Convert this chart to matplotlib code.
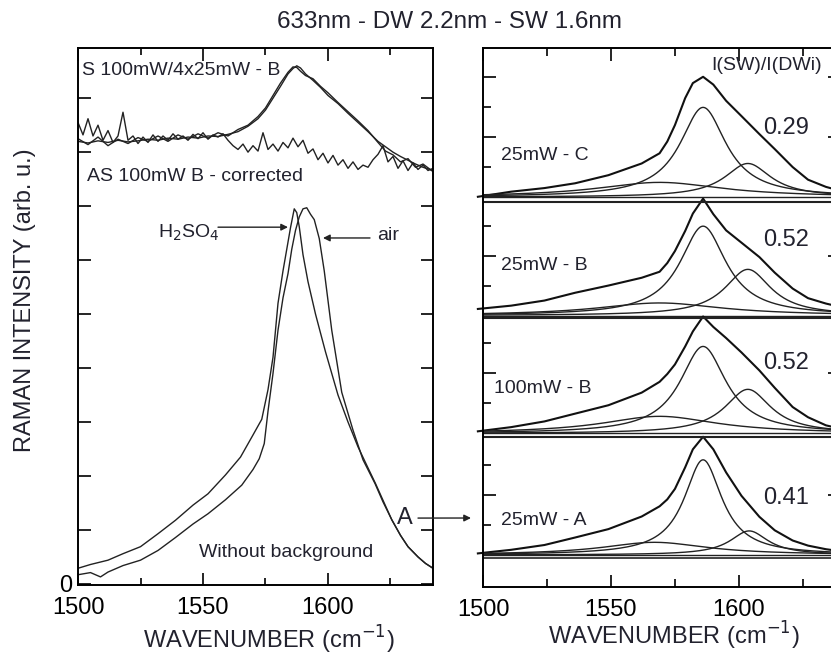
import numpy as np
import matplotlib
matplotlib.use('Agg')
import matplotlib.pyplot as plt

plt.rcParams['font.family'] = ['Liberation Sans', 'DejaVu Sans']

# ---- left panel: G band, with / without background ----
wn_h2so4 = [1500, 1505, 1512, 1518, 1525, 1532, 1539, 1546, 1552, 1559, 1565, 1570, 1573.5,
            1576, 1578, 1580, 1582, 1583.5, 1585, 1586.5, 1587.5, 1588.5, 1590, 1592, 1595,
            1599, 1604, 1608, 1612, 1616, 1619, 1622, 1625.5, 1629, 1632, 1636, 1639, 1642]
int_h2so4 = [0.29, 0.36, 0.44, 0.56, 0.69, 0.93, 1.18, 1.46, 1.67, 2.02, 2.35, 2.76, 3.05,
             3.6, 4.2, 5.2, 5.8, 6.2, 6.6, 6.95, 6.88, 6.62, 6.1, 5.6, 5.0,
             4.3, 3.5, 3.0, 2.54, 2.15, 1.86, 1.55, 1.19, 0.9, 0.69, 0.5, 0.38, 0.29]

wn_air = [1500, 1505, 1509, 1512, 1518, 1525, 1532, 1539, 1546, 1552, 1559, 1565.5, 1570,
          1572.5, 1574.5, 1576, 1578, 1580, 1582, 1584, 1585.5, 1587, 1588.5, 1590, 1591.5,
          1593, 1594.5, 1596.5, 1598.5, 1601.5, 1605.5, 1610, 1614, 1618.8, 1622, 1625.5,
          1629, 1632, 1636, 1639, 1642]
int_air = [0.17, 0.21, 0.13, 0.22, 0.34, 0.44, 0.62, 0.86, 1.11, 1.30, 1.56, 1.83, 2.12,
           2.32, 2.6, 3.2, 3.9, 4.7, 5.3, 5.75, 6.2, 6.55, 6.8, 6.95, 6.97,
           6.85, 6.75, 6.4, 5.8, 4.7, 3.55, 2.85, 2.3, 1.86, 1.52, 1.19,
           0.9, 0.69, 0.5, 0.38, 0.29]

wn_s = [1500, 1504, 1508, 1512, 1516, 1520, 1524, 1528, 1532, 1536, 1540, 1544, 1548, 1552,
        1556, 1560, 1564, 1568, 1572, 1575, 1578, 1581, 1584, 1586, 1587.5, 1589, 1591, 1594,
        1597, 1600, 1604, 1608, 1612, 1616, 1620, 1623, 1626, 1629, 1632, 1635, 1638, 1642]
s_100mw = [8.20, 8.17, 8.21, 8.18, 8.22, 8.19, 8.21, 8.24, 8.22, 8.26, 8.24, 8.28, 8.26, 8.30,
           8.29, 8.33, 8.38, 8.48, 8.62, 8.78, 9.0, 9.22, 9.45, 9.55, 9.60, 9.56, 9.45, 9.33,
           9.2, 9.05, 8.9, 8.72, 8.55, 8.38, 8.2, 8.1, 8.0, 7.92, 7.85, 7.78, 7.72, 7.66]
s_4x25mw = [8.25, 8.14, 8.28, 8.12, 8.24, 8.16, 8.27, 8.2, 8.3, 8.2, 8.32, 8.24, 8.34, 8.26,
            8.36, 8.3, 8.42, 8.5, 8.66, 8.82, 9.05, 9.28, 9.48, 9.58, 9.57, 9.5, 9.42, 9.36,
            9.22, 9.1, 8.92, 8.75, 8.58, 8.4, 8.18, 8.02, 7.95, 7.82, 7.88, 7.72, 7.78, 7.64]

wn_as = list(range(1500, 1643, 2))
as_100mw = [8.55, 8.32, 8.62, 8.30, 8.50, 8.22, 8.40, 8.18, 8.30, 8.74, 8.22, 8.30, 8.16, 8.28,
            8.18, 8.32, 8.20, 8.30, 8.22, 8.34, 8.24, 8.30, 8.22, 8.33, 8.25, 8.36, 8.24, 8.32,
            8.28, 8.34, 8.22, 8.12, 8.05, 8.15, 8.00, 8.12, 8.02, 8.36, 8.05, 8.15, 8.02, 8.18,
            8.08, 8.26, 8.10, 8.22, 7.98, 8.06, 7.86, 7.98, 7.80, 7.94, 7.76, 7.86, 7.70, 7.82,
            7.68, 7.76, 7.72, 7.86, 7.96, 8.12, 7.82, 7.92, 7.70, 7.84, 7.66, 7.80, 7.68, 7.76,
            7.66, 7.70]

# ---- right panel: four spectra with Lorentzian fits ----
panel_labels = ['25mW - C', '25mW - B', '100mW - B', '25mW - A']
ratio_labels = ['0.29', '0.52', '0.52', '0.41']
wn_r = [1498, 1511, 1524, 1536, 1549, 1562, 1569, 1572, 1575, 1579, 1582, 1586, 1590, 1595,
        1601, 1608, 1614, 1621, 1627, 1634, 1640]
meas_c = [0.01, 0.18, 0.30, 0.46, 0.73, 1.12, 1.46, 1.85, 2.40, 3.30, 3.80, 4.01, 3.75, 3.21,
          2.70, 2.10, 1.60, 1.00, 0.58, 0.34, 0.20]
meas_b25 = [0.22, 0.33, 0.50, 0.76, 1.00, 1.26, 1.46, 1.75, 2.15, 2.82, 3.40, 3.90, 3.38, 2.84,
            2.43, 1.95, 1.43, 0.90, 0.58, 0.40, 0.28]
meas_b100 = [0.07, 0.21, 0.40, 0.66, 0.94, 1.36, 1.72, 1.98, 2.30, 2.90, 3.40, 3.90, 3.55, 3.18,
             2.70, 2.10, 1.52, 0.88, 0.54, 0.27, 0.15]
meas_a = [0.05, 0.17, 0.33, 0.58, 0.86, 1.28, 1.62, 1.85, 2.20, 2.92, 3.52, 3.94, 3.52, 2.75,
          1.97, 1.27, 0.82, 0.48, 0.31, 0.19, 0.12]
measured = [meas_c, meas_b25, meas_b100, meas_a]

# fitted Lorentzians per panel: [broad, main, second] -> center, FWHM, height
fit_center = [[1569, 1586, 1603.5], [1569, 1586, 1603.5], [1569, 1586, 1603.5], [1567, 1586, 1604]]
fit_fwhm = [[60, 22, 22], [60, 22, 22], [55, 22, 22], [50, 18, 18]]
fit_height = [[0.49, 2.99, 1.12], [0.42, 2.98, 1.54], [0.57, 2.90, 1.47], [0.42, 3.17, 0.80]]

baselines = [13.0, 9.05, 5.12, 1.07]
separators = [12.83, 8.97, 5.0]


def lorentz(x, c, w, h):
    return h / (1 + ((x - c) / (w / 2.0)) ** 2)


txt = '#22222e'
fig = plt.figure(figsize=(8.31, 6.57), dpi=100)

# left axes
axl = fig.add_axes([78 / 831, 1 - 585 / 657, 355 / 831, 537 / 657])
lw = 1.0
axl.plot(wn_h2so4, int_h2so4, color='#222', lw=lw)
axl.plot(wn_air, int_air, color='#222', lw=lw)
axl.plot(wn_s, s_100mw, color='#222', lw=lw)
axl.plot(wn_s, s_4x25mw, color='#222', lw=lw)
axl.plot(wn_as, as_100mw, color='#222', lw=lw)
axl.set_xlim(1500, 1642)
axl.set_ylim(-0.02, 9.93)
axl.set_xticks([1500, 1550, 1600])
axl.set_xticks([1525, 1575, 1625], minor=True)
axl.set_yticks(range(10))
axl.set_yticklabels(['0'] + [''] * 9)
axl.tick_params(which='both', direction='in', top=True, right=True, width=1.2, labelsize=17)
axl.tick_params(which='major', length=9)
axl.tick_params(which='minor', length=5)
axl.tick_params(axis='x', pad=9)
axl.tick_params(axis='y', pad=4)

axl.text(1501.5, 9.52, 'S 100mW/4x25mW - B', fontsize=14, color=txt, va='center', ha='left')
axl.text(1503.5, 7.54, 'AS 100mW B - corrected', fontsize=14, color=txt, va='center', ha='left')
axl.text(1532, 6.5, 'H$_2$SO$_4$', fontsize=14, color=txt, va='center', ha='left')
axl.text(1619.5, 6.46, 'air', fontsize=14, color=txt, va='center', ha='left')
axl.text(1583.4, 0.59, 'Without background', fontsize=14, color=txt, va='center', ha='center')
axl.text(1630.8, 1.22, 'A', fontsize=17, color=txt, va='center', ha='center')
arrow = dict(arrowstyle='-|>', color='#222', lw=1.0, mutation_scale=10, shrinkA=0, shrinkB=0)
axl.annotate('', xy=(1584, 6.61), xytext=(1556, 6.61), arrowprops=arrow)
axl.annotate('', xy=(1598, 6.41), xytext=(1616.8, 6.41), arrowprops=arrow)

# right axes
axr = fig.add_axes([483 / 831, 1 - 587 / 657, 357 / 831, 539 / 657])
xf = np.linspace(1500, 1640, 400)
for i in range(4):
    off = baselines[i]
    axr.plot(wn_r, np.array(measured[i]) + off, color='#111', lw=1.5, clip_on=False)
    for c, w, h in zip(fit_center[i], fit_fwhm[i], fit_height[i]):
        axr.plot(xf, lorentz(xf, c, w, h) + off, color='#222', lw=1.0)
    axr.plot([1500, 1640], [off, off], color='#222', lw=1.0)
for s in separators:
    axr.axhline(s, color='#222', lw=1.5)
axr.axhline(0.97, color='#222', lw=1.2)

axr.set_xlim(1500, 1639.5)
axr.set_ylim(0, 17.97)
axr.set_xticks([1500, 1550, 1600])
axr.set_xticks([1525, 1575, 1625], minor=True)
major_y = [b + 2 for b in baselines] + [baselines[0] + 4]
minor_y = [b + 1 for b in baselines] + [b + 3 for b in baselines]
axr.set_yticks(sorted(major_y))
axr.set_yticks(sorted(minor_y), minor=True)
axr.set_yticklabels([])
axr.tick_params(which='both', direction='in', top=True, right=True, width=1.2, labelsize=17)
axr.tick_params(which='major', length=9)
axr.tick_params(which='minor', length=6)
axr.tick_params(axis='x', pad=9)

axr.text(1589.1, 17.4, 'I(SW)/I(DWi)', fontsize=14, color=txt, va='center', ha='left')
label_y = [14.4, 10.73, 6.63, 2.23]
ratio_y = [15.3, 11.57, 7.47, 2.97]
label_x = [1507, 1507, 1504.3, 1507]
for i in range(4):
    axr.text(label_x[i], label_y[i], panel_labels[i], fontsize=14, color=txt, va='center', ha='left')
    axr.text(1609.5, ratio_y[i], ratio_labels[i], fontsize=17, color=txt, va='center', ha='left')

for sp in list(axl.spines.values()) + list(axr.spines.values()):
    sp.set_linewidth(1.4)

# "A" arrow from left panel into bottom right spectrum
axl.annotate('', xy=(1495.3, 2.3), xycoords=axr.transData, xytext=(1636, 1.22),
             textcoords=axl.transData, arrowprops=arrow, annotation_clip=False)

fig.text(449 / 831, 1 - 22 / 657, '633nm - DW 2.2nm - SW 1.6nm', fontsize=17.5, color=txt,
         ha='center', va='center')
fig.text(269 / 831, 1 - 640 / 657, 'WAVENUMBER (cm$^{-1}$)', fontsize=17, color=txt,
         ha='center', va='center')
fig.text(674 / 831, 1 - 636 / 657, 'WAVENUMBER (cm$^{-1}$)', fontsize=17, color=txt,
         ha='center', va='center')
fig.text(25 / 831, 1 - 300 / 657, 'RAMAN INTENSITY (arb. u.)', fontsize=17, color=txt,
         ha='center', va='center', rotation=90)

fig.savefig('out.png', dpi=100)
